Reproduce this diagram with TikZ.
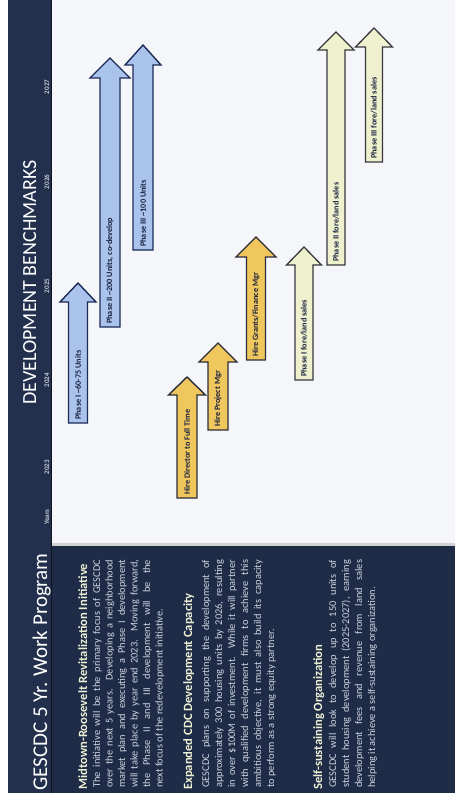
\documentclass[tikz,border=0pt]{standalone}
\usepackage{fontspec}
\setmainfont{Carlito}
\definecolor{chartbg}{HTML}{F5F6FA}
\definecolor{bandc}{HTML}{22304D}
\definecolor{panelc}{HTML}{1F2C47}
\definecolor{edgec}{HTML}{0D1322}
\definecolor{headc}{HTML}{EEF0D6}
\definecolor{bodyc}{HTML}{CDD3E0}
\definecolor{yearc}{HTML}{C3C8D4}
\definecolor{bluef}{HTML}{A9C3EC}
\definecolor{bluel}{HTML}{1D2B57}
\definecolor{goldf}{HTML}{F0C75C}
\definecolor{goldl}{HTML}{2A2D3C}
\definecolor{creamf}{HTML}{EEF0CE}
\definecolor{creaml}{HTML}{36383E}
\definecolor{lblc}{HTML}{1A2240}
\newcommand\jl[1]{\hbox to 228pt{#1}}
\newcommand\benchArrow[7]{%
  \draw[#1] ({#2-#3},#7) -- ({#2-#3},#6) -- ({#2-#4},#6) -- (#2,#5)
    -- ({#2+#4},#6) -- ({#2+#3},#6) -- ({#2+#3},#7) -- cycle;}
\begin{document}
\begin{tikzpicture}[x=1pt,y=-1pt,
  titlefont/.style={rotate=90,inner sep=0pt,text=white,font=\fontsize{21}{23}\selectfont},
  subtitle/.style={rotate=90,inner sep=0pt,text=white,font=\fontsize{20}{22}\selectfont},
  yearlbl/.style={rotate=90,inner sep=0pt,text=yearc,font=\fontsize{7}{8}\selectfont\bfseries},
  headtxt/.style={rotate=90,inner sep=0pt,text=headc,font=\fontsize{12.6}{14}\selectfont\bfseries},
  bodytxt/.style={rotate=90,inner sep=0pt,text=bodyc,font=\fontsize{10.4}{12}\selectfont},
  bluearrow/.style={fill=bluef,draw=bluel,line width=1.4pt,line join=miter},
  goldarrow/.style={fill=goldf,draw=goldl,line width=1.4pt,line join=miter},
  creamarrow/.style={fill=creamf,draw=creaml,line width=1.3pt,line join=miter},
  arrlbl/.style={rotate=90,inner sep=1pt,anchor=west,text=lblc,font=\fontsize{8.2}{9}\selectfont\bfseries}]
\useasboundingbox (0,0) rectangle (458,802);
\fill[white] (0,0) rectangle (458,802);
% chart area
\fill[chartbg] (52,0) rectangle (455,543);
\fill[gray!35] (52,543) rectangle (455,546);
% band and panel
\fill[bandc] (8,0) rectangle (52,793);
\fill[panelc] (52,546) rectangle (455,793);
\draw[edgec,line width=1.6pt] (51.5,0) -- (51.5,793);
% titles
\node[titlefont,anchor=base west] (title) at (47,791) {GESCDC 5 Yr. Work Program};
\node[subtitle,anchor=base west] (bench) at (36,405) {DEVELOPMENT BENCHMARKS};
% years
\node[yearlbl,anchor=base] (yYears) at (49,517) {Years};
\node[yearlbl,anchor=base] (y2023) at (49,467) {2023};
\node[yearlbl,anchor=base] (y2024) at (49,380) {2024};
\node[yearlbl,anchor=base] (y2025) at (49,286) {2025};
\node[yearlbl,anchor=base] (y2026) at (49,182) {2026};
\node[yearlbl,anchor=base] (y2027) at (49,87) {2027};
% arrows: style, xc, shaft half, head half, tip y, base y, bottom y
\benchArrow{bluearrow}{78}{9.5}{18}{283}{302}{423}
\benchArrow{bluearrow}{110}{10}{20}{58}{78}{327}
\benchArrow{bluearrow}{143}{10}{18}{45}{65}{250}
\benchArrow{goldarrow}{187}{10}{18.5}{377}{395}{498}
\benchArrow{goldarrow}{218}{10}{19}{343}{362}{430}
\benchArrow{goldarrow}{256}{9.5}{20}{237}{257}{360}
\benchArrow{creamarrow}{304}{9}{17.5}{247}{265}{380}
\benchArrow{creamarrow}{336}{9}{18}{32}{50}{265}
\benchArrow{creamarrow}{374}{8.5}{18.5}{28}{47}{162}
% arrow labels
\node[arrlbl] (a1) at (78,421) {Phase I \textasciitilde60-75 Units};
\node[arrlbl] (a2) at (110,325) {Phase II \textasciitilde200 Units, co-develop};
\node[arrlbl] (a3) at (143,248) {Phase III \textasciitilde100 Units};
\node[arrlbl] (a4) at (187,496) {Hire Director to Full Time};
\node[arrlbl] (a5) at (218,428) {Hire Project Mgr};
\node[arrlbl] (a6) at (256,358) {Hire Grants/Finance Mgr};
\node[arrlbl] (a7) at (304,378) {Phase I fore/land sales};
\node[arrlbl] (a8) at (336,263) {Phase II fore/land sales};
\node[arrlbl] (a9) at (374,160) {Phase III fore/land sales};
% section 1
\node[headtxt,anchor=base west] (h1) at (87,790) {Midtown-Roosevelt Revitalization Initiative};
\node[bodytxt,anchor=base west] (s1l1) at (100,788) {\jl{The initiative will be the primary focus of GESCDC}};
\node[bodytxt,anchor=base west] (s1l2) at (112.5,788) {\jl{over the next 5 years. Developing a neighborhood}};
\node[bodytxt,anchor=base west] (s1l3) at (125,788) {\jl{market plan and executing a Phase I development}};
\node[bodytxt,anchor=base west] (s1l4) at (137.5,788) {\jl{will take place by year end 2023. Moving forward,}};
\node[bodytxt,anchor=base west] (s1l5) at (150,788) {\jl{the Phase II and III development will be the}};
\node[bodytxt,anchor=base west] (s1l6) at (162.5,788) {next focus of the redevelopment initiative.};
% section 2
\node[headtxt,anchor=base west] (h2) at (192,790) {Expanded CDC Development Capacity};
\node[bodytxt,anchor=base west] (s2l1) at (209,788) {\jl{GESCDC plans on supporting the development of}};
\node[bodytxt,anchor=base west] (s2l2) at (222,788) {\jl{approximately 300 housing units by 2026, resulting}};
\node[bodytxt,anchor=base west] (s2l3) at (235,788) {\jl{in over \$100M of investment. While it will partner}};
\node[bodytxt,anchor=base west] (s2l4) at (248,788) {\jl{with qualified development firms to achieve this}};
\node[bodytxt,anchor=base west] (s2l5) at (261,788) {\jl{ambitious objective, it must also build its capacity}};
\node[bodytxt,anchor=base west] (s2l6) at (274,788) {to perform as a strong equity partner.};
% section 3
\node[headtxt,anchor=base west] (h3) at (322,790) {Self-sustaining Organization};
\node[bodytxt,anchor=base west] (s3l1) at (336,788) {\jl{GESCDC will look to develop up to 150 units of}};
\node[bodytxt,anchor=base west] (s3l2) at (349,788) {\jl{student housing development (2025-2027), earning}};
\node[bodytxt,anchor=base west] (s3l3) at (362,788) {\jl{development fees and revenue from land sales}};
\node[bodytxt,anchor=base west] (s3l4) at (375,788) {helping it achieve a self-sustaining organization.};
\end{tikzpicture}
\end{document}
